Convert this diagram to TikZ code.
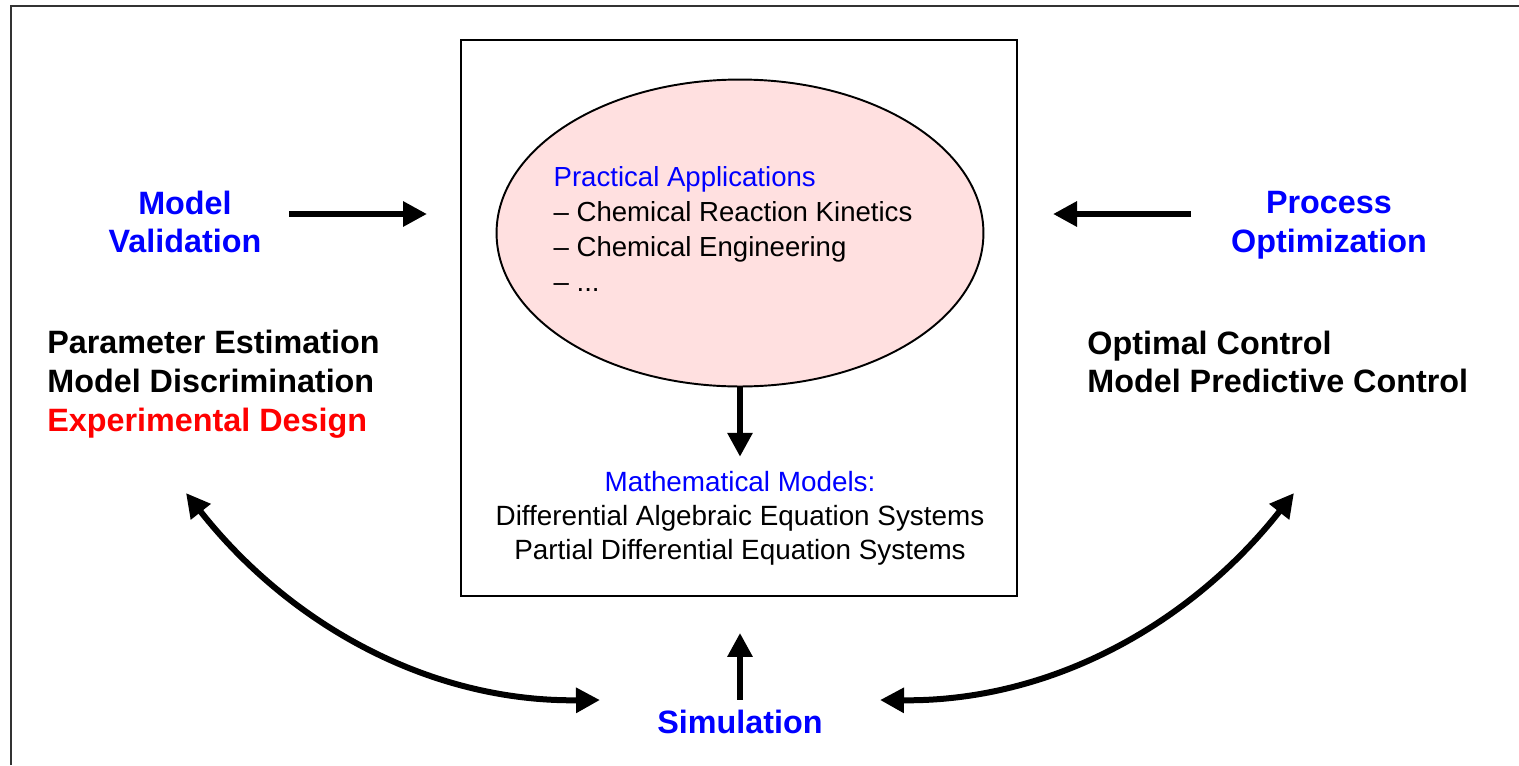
\documentclass[tikz,border=0pt]{standalone}
\usepackage{fontspec}
\setmainfont{Liberation Sans}
\usetikzlibrary{positioning,arrows.meta,shapes.geometric}
\definecolor{LabelBlue}{HTML}{0000FF}
\definecolor{LabelRed}{HTML}{FF0000}
\definecolor{AppTint}{HTML}{FFE0E0}
\definecolor{FrameGrey}{HTML}{333333}
\tikzset{
  headline/.style={font=\fontsize{18.4}{22.1}\selectfont\bfseries, align=center, inner sep=0pt},
  bodytext/.style={font=\fontsize{15.7}{19.8}\selectfont, inner sep=0pt},
  flow/.style={-{Triangle[length=0.48cm,width=0.48cm]}, line width=0.12cm},
  twoway/.style={{Triangle[length=0.48cm,width=0.48cm]}-{Triangle[length=0.48cm,width=0.48cm]}, line width=0.12cm},
}
\begin{document}
\begin{tikzpicture}[x=0.02cm, y=-0.02cm]
  \useasboundingbox (0,0) rectangle (1519,765);
  \draw[FrameGrey, line width=1.2pt] (11,765) -- (11,6) -- (1519,6);
  \node[draw, line width=1.1pt, minimum width=11.12cm, minimum height=11.12cm] (box) at (739,318) {};
  \node[ellipse, draw, line width=1.1pt, fill=AppTint, minimum width=9.74cm, minimum height=6.14cm] (apps) at (740,233) {};
  \node[bodytext, align=left] (appstext) at (733,229) {\textcolor{LabelBlue}{Practical Applications}\\-- Chemical Reaction Kinetics\\-- Chemical Engineering\\-- ...};
  \node[bodytext, font=\fontsize{15.85}{19.3}\selectfont, align=center] (mathmod) at (740,518) {\textcolor{LabelBlue}{Mathematical Models:}\\Differential Algebraic Equation Systems\\Partial Differential Equation Systems};
  \draw[flow, shorten >=0.28cm] (apps.south) -- (mathmod.north);
  \node[headline, LabelBlue] (valid) at (185,222) {Model\\Validation};
  \node[headline, LabelBlue] (optim) at (1329,225.5) {Process\\Optimization};
  \node[headline, anchor=west, align=left] (estim) at (47,384) {Parameter Estimation\\Model Discrimination\\\textcolor{LabelRed}{Experimental Design}};
  \node[headline, anchor=west, align=left] (control) at (1087,362) {Optimal Control\\Model Predictive Control};
  \node[headline, LabelBlue] (sim) at (740,722) {Simulation};
  \coordinate (vtail) at (289,214);
  \coordinate (vhead) at (427,214);
  \coordinate (otail) at (1191,214);
  \coordinate (ohead) at (1053,214);
  \coordinate (lefttop) at (186,493);
  \coordinate (leftbot) at (600,700);
  \coordinate (righttop) at (1294,493);
  \coordinate (rightbot) at (880,700);
  \draw[flow] (vtail) -- (vhead);
  \draw[flow] (otail) -- (ohead);
  \draw[flow, shorten <=0.2cm, shorten >=0.72cm] (sim.north) -- (sim.north |- box.south);
  \draw[twoway] (lefttop) .. controls (290,625) and (430,702) .. (leftbot);
  \draw[twoway] (righttop) .. controls (1190,625) and (1050,702) .. (rightbot);
\end{tikzpicture}
\end{document}
